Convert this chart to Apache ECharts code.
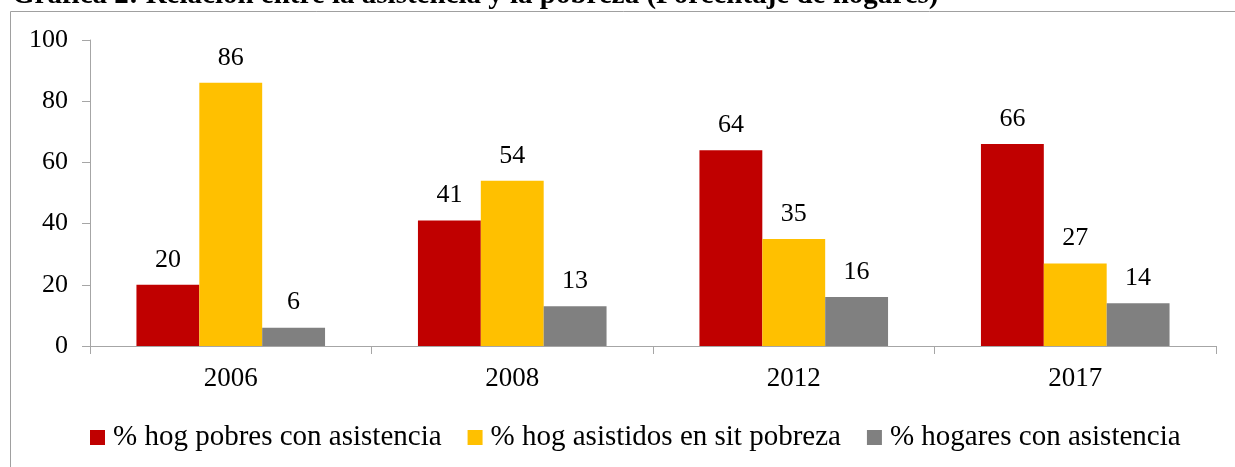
<!DOCTYPE html>
<html>
<head>
<meta charset="utf-8">
<script src="https://cdn.jsdelivr.net/npm/echarts@6/dist/echarts.min.js"></script>
<style>html,body{margin:0;padding:0;background:#fff;}#c{width:1235px;height:467px;}</style>
</head>
<body>
<div id="c"></div>
<script>
const titleText = 'Gráfica 2: Relación entre la asistencia y la pobreza (Porcentaje de hogares)';
const categories = ['2006', '2008', '2012', '2017'];
const seriesNames = ['% hog pobres con asistencia', '% hog asistidos en sit pobreza', '% hogares con asistencia'];
const pobresConAsistencia = [20, 41, 64, 66];
const asistidosEnPobreza = [86, 54, 35, 27];
const hogaresConAsistencia = [6, 13, 16, 14];
const yTicks = [0, 20, 40, 60, 80, 100];
const colors = ['#C00000', '#FFC000', '#808080'];

const FONT = "'Liberation Serif', 'Times New Roman', serif";
const chart = echarts.init(document.getElementById('c'), null, {renderer: 'canvas'});
const valuesList = [pobresConAsistencia, asistidosEnPobreza, hogaresConAsistencia];

chart.setOption({
  animation: false,
  backgroundColor: '#fff',
  title: {
    text: titleText,
    left: 12,
    top: -19,
    padding: 0,
    textStyle: {fontFamily: FONT, fontSize: 29, fontWeight: 'bold', color: '#000'}
  },
  graphic: [{
    type: 'rect',
    shape: {x: 10.5, y: 11.5, width: 1400, height: 600},
    style: {fill: 'none', stroke: '#a0a0a0', lineWidth: 1},
    silent: true,
    z: -1
  }],
  legend: {
    left: 90,
    top: 423,
    padding: 0,
    itemWidth: 15,
    itemHeight: 15,
    itemGap: 26,
    icon: 'rect',
    data: seriesNames,
    textStyle: {fontFamily: FONT, fontSize: 29, color: '#000', padding: [0, 0, 0, 3]}
  },
  grid: {left: 90, right: 19, top: 40, bottom: 121, containLabel: false},
  xAxis: {
    type: 'category',
    data: categories,
    axisLine: {lineStyle: {color: '#a6a6a6', width: 1}},
    axisTick: {show: true, length: 8, lineStyle: {color: '#a6a6a6'}},
    axisLabel: {fontFamily: FONT, fontSize: 27, color: '#000', margin: 19}
  },
  yAxis: {
    type: 'value',
    min: yTicks[0],
    max: yTicks[yTicks.length - 1],
    interval: 20,
    splitLine: {show: false},
    axisLine: {show: true, lineStyle: {color: '#a6a6a6', width: 1}},
    axisTick: {show: true, length: 8, lineStyle: {color: '#a6a6a6'}},
    axisLabel: {fontFamily: FONT, fontSize: 26, color: '#000', margin: 22}
  },
  series: seriesNames.map((name, i) => ({
    name: name,
    type: 'bar',
    data: valuesList[i],
    barGap: '0%',
    barCategoryGap: '33%',
    itemStyle: {color: colors[i]},
    label: {show: true, position: 'top', distance: 12, fontFamily: FONT, fontSize: 26, color: '#000'}
  }))
});
</script>
</body>
</html>
